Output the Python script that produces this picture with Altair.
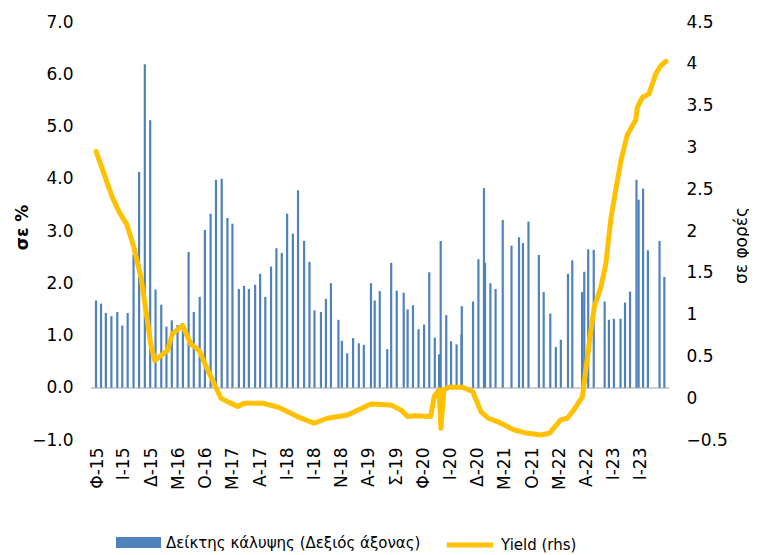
import altair as alt
import pandas as pd

# ---- data ----
bar_dates = ["2015-01-26","2015-02-23","2015-03-22","2015-04-22","2015-05-25","2015-06-22","2015-07-22","2015-08-24","2015-09-24","2015-10-26","2015-11-25","2015-12-25",
             "2016-01-26","2016-02-24","2016-03-25","2016-04-26","2016-05-26","2016-06-27","2016-07-26","2016-08-28","2016-09-26","2016-10-28","2016-11-27","2016-12-29",
             "2017-01-30","2017-02-27","2017-04-04","2017-05-03","2017-05-30","2017-07-04","2017-08-01","2017-08-30","2017-10-01","2017-10-31","2017-11-30","2017-12-30",
             "2018-01-31","2018-03-01","2018-04-04","2018-05-04","2018-06-01","2018-07-07","2018-08-04","2018-09-01","2018-10-13","2018-11-01","2018-12-01",
             "2019-01-03","2019-02-04","2019-03-04","2019-04-13","2019-05-04","2019-06-01","2019-07-13","2019-08-04","2019-09-04","2019-10-13","2019-11-04","2019-12-04",
             "2020-01-04","2020-02-04","2020-03-04","2020-04-04","2020-04-28","2020-05-07","2020-06-07","2020-07-04","2020-08-04","2020-08-31","2020-09-02","2020-11-04","2020-12-04",
             "2021-01-04","2021-01-10","2021-02-09","2021-03-10","2021-04-19","2021-06-07","2021-07-19","2021-08-10","2021-09-10","2021-11-07","2021-12-04",
             "2022-01-10","2022-02-10","2022-03-10","2022-04-19","2022-05-13","2022-07-07","2022-07-19","2022-08-10","2022-09-10","2022-11-10","2022-12-04",
             "2023-01-01","2023-02-07","2023-03-04","2023-04-01","2023-05-07","2023-05-19","2023-06-13","2023-07-10","2023-09-13","2023-10-10"]
bar_values = [1.67,1.61,1.43,1.37,1.45,1.19,1.43,2.55,4.13,6.19,5.12,1.88,
              1.59,1.17,1.29,1.20,1.15,2.60,1.45,1.74,3.02,3.33,3.98,4.00,
              3.25,3.14,1.89,1.95,1.89,1.97,2.18,1.74,2.32,2.67,2.58,3.33,
              2.95,3.78,2.81,2.41,1.48,1.45,1.70,2.00,1.30,0.90,0.66,
              0.95,0.85,0.82,2.00,1.67,1.85,0.74,2.39,1.86,1.82,1.50,1.58,
              1.12,1.21,2.21,0.96,0.64,2.81,1.39,0.89,0.83,1.02,1.56,1.65,2.46,
              3.82,2.39,2.00,1.89,3.21,2.72,2.88,2.77,3.18,2.54,1.83,
              1.42,0.78,0.92,2.18,2.44,1.83,2.22,2.65,2.64,1.65,1.30,
              1.32,1.32,1.63,1.84,3.98,3.60,3.81,2.63,2.81,2.12]

yield_dates = ["2015-01-27","2015-03-11","2015-04-26","2015-06-04","2015-07-19","2015-08-25","2015-10-04","2015-11-01","2015-11-28","2015-12-21",
               "2016-01-24","2016-03-01","2016-03-28","2016-05-24","2016-07-09","2016-08-25","2016-10-20","2016-12-25",
               "2017-02-08","2017-03-29","2017-05-03","2017-08-16","2017-11-14","2018-02-26","2018-05-30","2018-08-13","2018-12-03",
               "2019-04-12","2019-08-02","2019-09-27","2019-11-04","2019-12-10","2020-03-12","2020-04-01","2020-04-28","2020-05-08","2020-05-25",
               "2020-06-22","2020-09-07","2020-11-02","2020-12-18","2021-01-28","2021-03-20","2021-06-22","2021-09-06","2021-11-19",
               "2022-01-05","2022-03-09","2022-04-15","2022-05-22","2022-07-09","2022-07-27","2022-08-25","2022-09-13","2022-10-20","2022-11-17","2022-12-15",
               "2023-01-12","2023-02-10","2023-03-17","2023-05-03","2023-05-12","2023-06-10","2023-07-16","2023-08-23","2023-09-21","2023-10-19"]
yield_values = [2.95,2.69,2.41,2.23,2.07,1.81,1.45,1.05,0.65,0.45,
                0.51,0.57,0.77,0.87,0.65,0.57,0.30,0.00,
                -0.05,-0.10,-0.06,-0.06,-0.11,-0.22,-0.30,-0.24,-0.20,
                -0.07,-0.08,-0.14,-0.22,-0.21,-0.22,0.02,0.10,-0.36,0.10,
                0.13,0.13,0.08,-0.16,-0.24,-0.28,-0.38,-0.42,-0.44,
                -0.42,-0.26,-0.24,-0.14,0.02,0.33,0.81,1.09,1.33,1.61,2.15,
                2.50,2.85,3.15,3.33,3.48,3.60,3.64,3.88,3.98,4.03]

tick_dates = ["2015-02-01","2015-07-01","2015-12-01","2016-05-01","2016-10-01","2017-03-01","2017-08-01",
              "2018-01-01","2018-06-01","2018-11-01","2019-04-01","2019-09-01","2020-02-01","2020-07-01",
              "2020-12-01","2021-05-01","2021-10-01","2022-03-01","2022-08-01","2023-01-01","2023-06-01"]
tick_labels = ["Φ-15","Ι-15","Δ-15","Μ-16","Ο-16","Μ-17","Α-17","Ι-18","Ι-18","Ν-18","Α-19",
               "Σ-19","Φ-20","Ι-20","Δ-20","Μ-21","Ο-21","Μ-22","Α-22","Ι-23","Ι-23"]

bar_name = "Δείκτης κάλυψης (Δεξιός άξονας)"
line_name = "Yield (rhs)"
left_title = "σε %"
right_title = "σε φορές"

# ---- helpers ----
def ms(d):
    return int(pd.Timestamp(d, tz="UTC").timestamp() * 1000)

tick_ms = [ms(d) for d in tick_dates]
x_domain = [ms("2014-12-29"), ms("2023-11-05")]
label_expr = ("[" + ",".join("'" + t + "'" for t in tick_labels) + "][indexof(["
              + ",".join(str(t) for t in tick_ms) + "], time(datum.value))]")

bars_df = pd.DataFrame({"date": bar_dates, "value": bar_values, "series": bar_name})
line_df = pd.DataFrame({"date": yield_dates, "value": yield_values, "series": line_name})

FONT = "DejaVu Sans"

x_enc = alt.X("date:T",
              scale=alt.Scale(domain=x_domain, nice=False, padding=0),
              axis=alt.Axis(values=tick_ms, labelExpr=label_expr, labelAngle=270,
                            labelFontSize=17, labelColor="#000000", labelPadding=7,
                            domain=False, ticks=False, grid=False, labelFlush=False,
                            labelOverlap=False, labelBound=False, title=None))

left_scale = alt.Scale(domain=[-1, 7], nice=False, zero=False)

bars = alt.Chart(bars_df).mark_bar(size=2.2).encode(
    x=x_enc,
    y=alt.Y("value:Q", scale=left_scale,
            axis=alt.Axis(orient="left", values=[-1, 0, 1, 2, 3, 4, 5, 6, 7], format=".1f",
                          labelFontSize=17, labelColor="#000000", labelPadding=18,
                          domain=False, ticks=False, grid=False,
                          title=left_title, titleFontSize=17, titleFontWeight="bold",
                          titleColor="#000000", titleX=-69, titleY=205,
                          titleBaseline="middle", titleAngle=270)),
    y2=alt.datum(0),
    color=alt.Color("series:N",
                    scale=alt.Scale(domain=[bar_name], range=["#4F81BD"]),
                    legend=alt.Legend(title=None, orient="none", legendX=40, legendY=513,
                                      symbolType="M-3,-0.73H3V0.73H-3Z", symbolSize=225,
                                      symbolStrokeWidth=0, labelFontSize=15, labelColor="#000000",
                                      labelOffset=20, padding=0, labelFont=FONT, labelLimit=400)),
)

rule = alt.Chart(bars_df).mark_rule(color="#d0d0d0", strokeWidth=1.5).encode(
    y=alt.datum(0, scale=left_scale)
)

line = alt.Chart(line_df).mark_line(strokeWidth=5, strokeJoin="round", strokeCap="round").encode(
    x=x_enc,
    y=alt.Y("value:Q", scale=alt.Scale(domain=[-0.5, 4.5], nice=False, zero=False),
            axis=alt.Axis(orient="right", values=[-0.5, 0, 0.5, 1, 1.5, 2, 2.5, 3, 3.5, 4, 4.5],
                          format="~g", labelFontSize=17, labelColor="#000000", labelPadding=17,
                          domain=False, ticks=False, grid=False,
                          title=right_title, titleFontSize=17, titleFontWeight="normal",
                          titleColor="#000000", titleX=72, titleY=223,
                          titleBaseline="middle", titleAngle=270)),
    stroke=alt.Stroke("series:N",
                      scale=alt.Scale(domain=[line_name], range=["#FFC000"]),
                      legend=alt.Legend(title=None, orient="none", legendX=369, legendY=513,
                                        symbolType="M-3.1,0H3.1", symbolSize=225, symbolStrokeWidth=5,
                                        labelFontSize=15, labelColor="#000000", labelOffset=21,
                                        padding=0, labelFont=FONT, labelLimit=400)),
)

chart = alt.layer(alt.layer(rule, bars), line).resolve_scale(
    y="independent", color="independent", stroke="independent"
).properties(
    width=578, height=418,
    padding={"left": 5, "top": 5, "right": 0, "bottom": 0}
).configure(
    font=FONT
).configure_view(stroke=None)

chart.save("out.html", embed_options={"renderer": "svg", "actions": False})
